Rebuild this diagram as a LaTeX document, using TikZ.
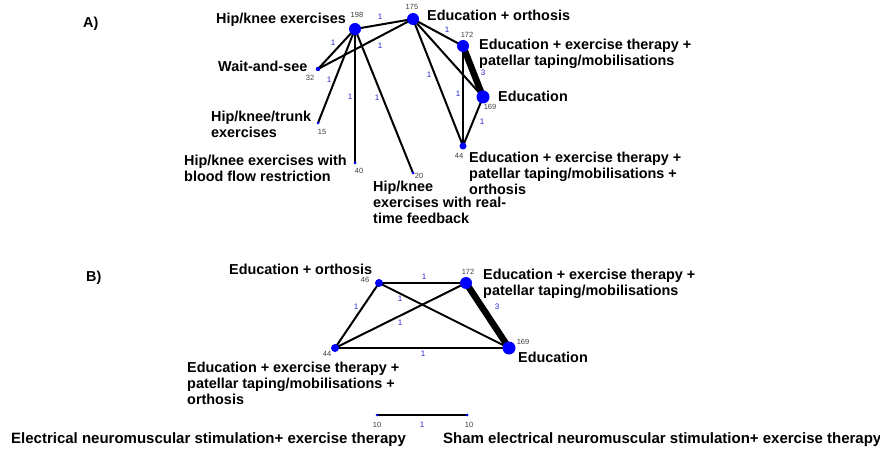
\documentclass[tikz,border=0pt]{standalone}
\usepackage{fontspec}
\setmainfont{Liberation Sans}
\pgfdeclarelayer{background}
\pgfsetlayers{background,main}
\definecolor{nodeblue}{RGB}{0,0,255}
\definecolor{elab}{RGB}{40,40,210}
\begin{document}
\begin{tikzpicture}[x=1pt,y=-1pt,
  trt/.style={circle,fill=nodeblue,inner sep=0pt,minimum size=#1},
  edge/.style={line width=2pt,black},
  thick edge/.style={line width=6.5pt,black},
  lbl/.style={font=\fontsize{14.4}{16.3}\selectfont\bfseries,inner sep=0pt,align=left},
  foot/.style={font=\fontsize{15}{17}\selectfont\bfseries,inner sep=0pt},
  num/.style={font=\fontsize{7.5}{9}\selectfont,text=black!75,inner sep=0pt},
  elbl/.style={font=\fontsize{8}{9}\selectfont,text=elab,inner sep=0pt}]
\useasboundingbox (0,0) rectangle (880,449);

% ---------- Panel A ----------
\node[lbl,anchor=base west] (pa) at (83,28) {A)};
\node[trt=12pt] (a198) at (355,29) {};
\node[trt=12pt] (a175) at (413,19) {};
\node[trt=12pt] (a172) at (463,46) {};
\node[trt=13pt] (a169) at (483,97) {};
\node[trt=7pt] (a44) at (463,146) {};
\node[trt=4.5pt] (a32) at (318,69) {};
\node[trt=3pt] (a15) at (318,123) {};
\node[trt=3pt] (a40) at (355,163) {};
\node[trt=3pt] (a20) at (413,173) {};

\begin{pgfonlayer}{background}
\fill[white] (0,0) rectangle (880,449);
\draw[edge] (a198.center) -- (a175.center);
\draw[edge] (a198.center) -- (a32.center);
\draw[edge] (a175.center) -- (a32.center);
\draw[edge] (a198.center) -- (a15.center);
\draw[edge] (a198.center) -- (a40.center);
\draw[edge] (a198.center) -- (a20.center);
\draw[edge] (a175.center) -- (a172.center);
\draw[edge] (a175.center) -- (a169.center);
\draw[edge] (a175.center) -- (a44.center);
\draw[edge] (a172.center) -- (a44.center);
\draw[edge] (a169.center) -- (a44.center);
\draw[thick edge] (a172.center) -- (a169.center);
\end{pgfonlayer}

\node[elbl] (e1) at (380,17) {1};
\node[elbl] (e2) at (333,43) {1};
\node[elbl] (e3) at (380,46) {1};
\node[elbl] (e4) at (329,80) {1};
\node[elbl] (e5) at (350,97) {1};
\node[elbl] (e6) at (377,98) {1};
\node[elbl] (e7) at (447,30) {1};
\node[elbl] (e8) at (429,75) {1};
\node[elbl] (e9) at (458,94) {1};
\node[elbl] (e10) at (483,73) {3};
\node[elbl] (e11) at (482,122) {1};

\node[num] (n198) at (357,15) {198};
\node[num] (n175) at (412,7) {175};
\node[num] (n172) at (467,35) {172};
\node[num] (n169) at (490,107) {169};
\node[num] (n44a) at (459,156) {44};
\node[num] (n32) at (310,78) {32};
\node[num] (n15) at (322,132) {15};
\node[num] (n40) at (359,171) {40};
\node[num] (n20) at (419,176) {20};

\node[lbl,anchor=base east] (l198) at (346,24) {Hip/knee exercises};
\node[lbl,anchor=base west] (l175) at (427,21) {Education + orthosis};
\node[lbl,anchor=north west] (l172) at (479,38.7) {Education + exercise therapy +\\patellar taping/mobilisations};
\node[lbl,anchor=base west] (l169) at (498,102) {Education};
\node[lbl,anchor=north west] (l44a) at (469,151.7) {Education + exercise therapy +\\patellar taping/mobilisations +\\orthosis};
\node[lbl,anchor=base west] (l32) at (218,72) {Wait-and-see};
\node[lbl,anchor=north west] (l15) at (211,110.7) {Hip/knee/trunk\\exercises};
\node[lbl,anchor=north west] (l40) at (184,154.7) {Hip/knee exercises with\\blood flow restriction};
\node[lbl,anchor=north west] (l20) at (373,180.5) {Hip/knee\\exercises with real-\\time feedback};

% ---------- Panel B ----------
\node[lbl,anchor=base west] (pb) at (86,281) {B)};
\node[trt=8pt] (b46) at (379,283) {};
\node[trt=12pt] (b172) at (466,283) {};
\node[trt=13pt] (b169) at (509,348) {};
\node[trt=8pt] (b44) at (335,348) {};

\begin{pgfonlayer}{background}
\draw[edge] (b46.center) -- (b172.center);
\draw[edge] (b46.center) -- (b169.center);
\draw[edge] (b46.center) -- (b44.center);
\draw[edge] (b172.center) -- (b44.center);
\draw[edge] (b44.center) -- (b169.center);
\draw[thick edge] (b172.center) -- (b169.center);
\end{pgfonlayer}

\node[elbl] (f1) at (424,277) {1};
\node[elbl] (f2) at (400,299) {1};
\node[elbl] (f3) at (356,307) {1};
\node[elbl] (f4) at (400,323) {1};
\node[elbl] (f5) at (497,307) {3};
\node[elbl] (f6) at (423,354) {1};

\node[num] (m46) at (365,280) {46};
\node[num] (m172) at (468,272) {172};
\node[num] (m169) at (523,342) {169};
\node[num] (m44) at (327,354) {44};

\node[lbl,anchor=base west] (k46) at (229,274) {Education + orthosis};
\node[lbl,anchor=north west] (k172) at (483,268.7) {Education + exercise therapy +\\patellar taping/mobilisations};
\node[lbl,anchor=base west] (k169) at (518,362) {Education};
\node[lbl,anchor=north west] (k44) at (187,361.7) {Education + exercise therapy +\\patellar taping/mobilisations +\\orthosis};

% ---------- Bottom pair ----------
\node[trt=3pt] (c1) at (377,415) {};
\node[trt=3pt] (c2) at (467,415) {};
\begin{pgfonlayer}{background}
\draw[edge] (c1.center) -- (c2.center);
\end{pgfonlayer}
\node[num] (q1) at (377,425) {10};
\node[num] (q2) at (469,425) {10};
\node[elbl] (g1) at (422,425) {1};
\node[foot,anchor=base west] (t1) at (11,443) {Electrical neuromuscular stimulation+ exercise therapy};
\node[foot,anchor=base west] (t2) at (443,443) {Sham electrical neuromuscular stimulation+ exercise therapy};
\end{tikzpicture}
\end{document}
